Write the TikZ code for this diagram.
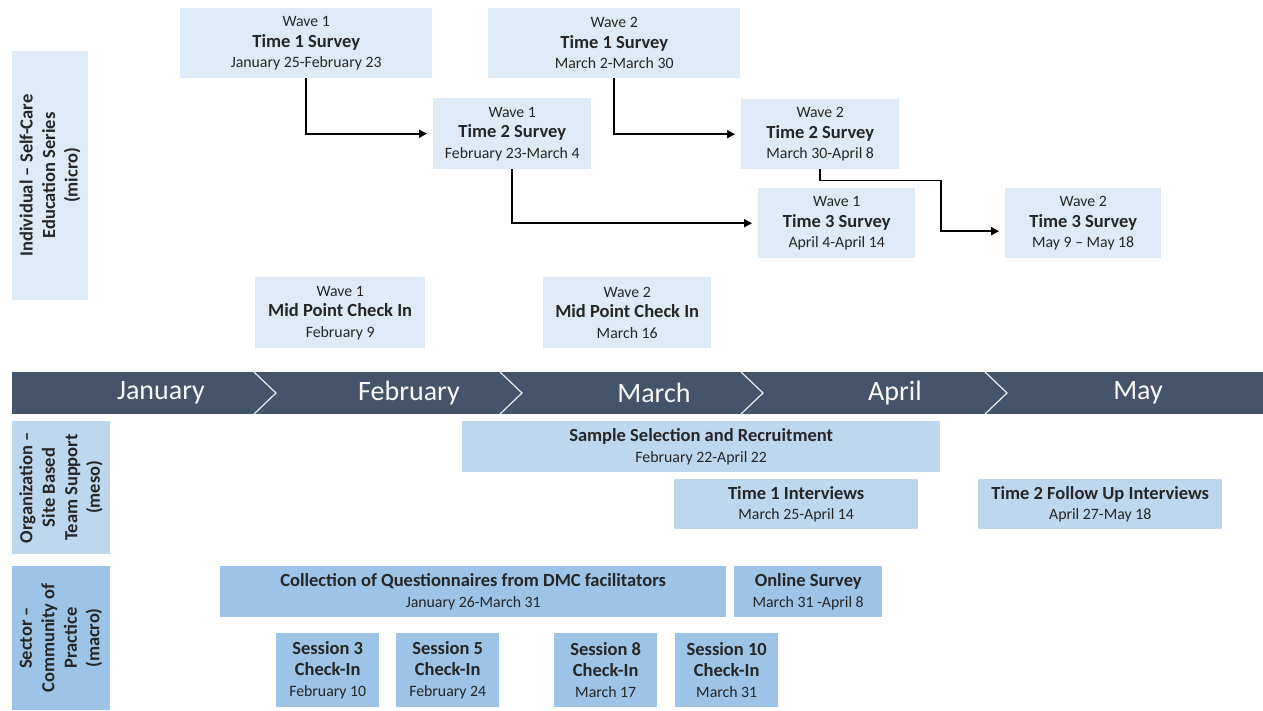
\documentclass[tikz,border=0pt]{standalone}
\usepackage{fontspec}
\setmainfont{Carlito}
\usetikzlibrary{arrows.meta}
\definecolor{paleblue}{HTML}{DEEBF7}
\definecolor{midblue}{HTML}{BDD7EE}
\definecolor{deepblue}{HTML}{9DC3E6}
\definecolor{slate}{HTML}{44546A}
\newcommand{\boxtitle}[1]{{\fontsize{18.5}{20.5}\selectfont\bfseries #1}}

\begin{document}
\begin{tikzpicture}[x=1pt,y=-1pt,
  box/.style={anchor=north west,inner sep=0pt,align=center,text=black!85,font=\fontsize{15.8}{20.5}\selectfont},
  wave/.style={box,fill=paleblue},
  org/.style={box,fill=midblue},
  sec/.style={box,fill=deepblue},
  lvl/.style={rotate=90,inner sep=0pt,align=center,text=black!85,font=\fontsize{18.5}{22.5}\selectfont\bfseries},
  month/.style={text=white!95!gray,font=\fontsize{28}{30}\selectfont},
  sepline/.style={white!85!gray,line width=1.2pt},
  conn/.style={-{Triangle[length=8,width=8]},line width=1.8pt,shorten >=6pt}]
\useasboundingbox (0,0) rectangle (1263,710);
% level labels
\node[lvl,fill=paleblue,minimum width=249,minimum height=76] (micro) at (50,175.5) {Individual – Self-Care\\Education Series\\(micro)};
\node[lvl,fill=midblue,minimum width=133,minimum height=98] (meso) at (61,487.5) {Organization –\\Site Based\\Team Support\\(meso)};
\node[lvl,fill=deepblue,minimum width=144,minimum height=98] (macro) at (61,638) {Sector –\\Community of\\Practice\\(macro)};
% survey waves
\node[wave,minimum width=252,minimum height=70] (w1t1) at (180,8) {Wave 1\\\boxtitle{Time 1 Survey}\\January 25-February 23};
\node[wave,minimum width=252,minimum height=70] (w2t1) at (488,8) {Wave 2\\\boxtitle{Time 1 Survey}\\March 2-March 30};
\node[wave,minimum width=158,minimum height=71] (w1t2) at (433,98) {Wave 1\\\boxtitle{Time 2 Survey}\\February 23-March 4};
\node[wave,minimum width=158,minimum height=70] (w2t2) at (741,99) {Wave 2\\\boxtitle{Time 2 Survey}\\March 30-April 8};
\node[wave,minimum width=157,minimum height=70] (w1t3) at (758,188) {Wave 1\\\boxtitle{Time 3 Survey}\\April 4-April 14};
\node[wave,minimum width=156,minimum height=70] (w2t3) at (1005,188) {Wave 2\\\boxtitle{Time 3 Survey}\\May 9 – May 18};
\node[wave,minimum width=170,minimum height=71] (w1mid) at (255,277) {Wave 1\\\boxtitle{Mid Point Check In}\\February 9};
\node[wave,minimum width=168,minimum height=71] (w2mid) at (543,277) {Wave 2\\\boxtitle{Mid Point Check In}\\March 16};
\draw[conn] (w1t1.south) |- (w1t2.west);
\draw[conn] (w2t1.south) |- (w2t2.west);
\draw[conn] (w1t2.south) |- (w1t3.west);
\draw[conn] (w2t2.south) |- ++(121,11) |- ([yshift=-8pt]w2t3.west);
% months
\fill[slate] (12,372) rectangle (1263,414);
\foreach \nm/\mx/\txt in {jan/161/January,feb/409/February,mar/654/March,apr/895/April,may/1138/May}
  \node[month] (\nm) at (\mx,393) {\txt};
\foreach \sx in {254,500,741,985}
  \draw[sepline] (\sx,372) -- (\sx+22,393) -- (\sx,414);
% organization
\node[org,minimum width=478,minimum height=51] (sample) at (462,421) {\boxtitle{Sample Selection and Recruitment}\\February 22-April 22};
\node[org,minimum width=244,minimum height=50] (int1) at (674,479) {\boxtitle{Time 1 Interviews}\\March 25-April 14};
\node[org,minimum width=244,minimum height=50] (int2) at (978,479) {\boxtitle{Time 2 Follow Up Interviews}\\April 27-May 18};
% sector
\node[sec,minimum width=506,minimum height=51] (dmc) at (220,566) {\boxtitle{Collection of Questionnaires from DMC facilitators}\\January 26-March 31};
\node[sec,minimum width=148,minimum height=51] (online) at (734,566) {\boxtitle{Online Survey}\\March 31 -April 8};
\foreach \nm/\sx/\num/\dt in {s3/276/3/February 10,s5/396/5/February 24,s8/554/8/March 17,s10/675/10/March 31}
  \node[sec,minimum width=103,minimum height=74,font=\fontsize{15.8}{21}\selectfont] (\nm) at (\sx,633) {\boxtitle{Session \num}\\\boxtitle{Check-In}\\\dt};
\end{tikzpicture}
\end{document}
